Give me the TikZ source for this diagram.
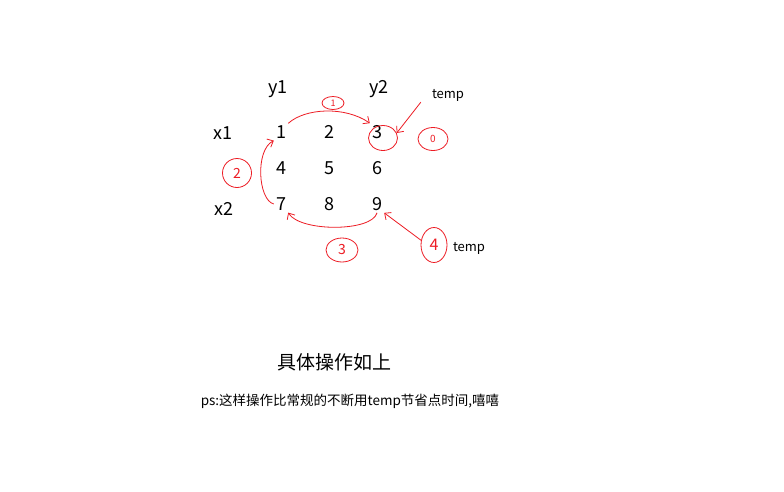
\documentclass[tikz,border=0pt]{standalone}
\usepackage{fontspec}
\setmainfont{Noto Sans CJK SC}
\usetikzlibrary{arrows.meta,shapes.geometric}
\definecolor{pen}{RGB}{237,28,36}
\begin{document}
\begin{tikzpicture}[x=1pt,y=1pt,
  lbl/.style={font=\fontsize{18}{20}\selectfont, inner sep=2pt},
  small/.style={font=\fontsize{13}{15}\selectfont, inner sep=1pt},
  ring/.style={ellipse, draw=pen, line width=0.8pt, inner sep=0pt, text=pen},
  penline/.style={draw=pen, line width=0.8pt},
  penarrow/.style={penline, -{Straight Barb[length=5pt,width=9pt]}}]
\useasboundingbox[fill=white] (0,0) rectangle (784,-491);
% labels
\node[lbl] (y1) at (278,-89) {y1};
\node[lbl] (y2) at (379,-89) {y2};
\node[lbl] (x1) at (223,-133) {x1};
\node[lbl] (x2) at (224,-209) {x2};
% grid
\node[lbl] (n1) at (281,-132) {1};
\node[lbl] (n2) at (329,-132) {2};
\node[lbl] (n3) at (377,-132) {3};
\node[lbl] (n4) at (281,-168) {4};
\node[lbl] (n5) at (329,-168) {5};
\node[lbl] (n6) at (377,-168) {6};
\node[lbl] (n7) at (281,-204) {7};
\node[lbl] (n8) at (329,-204) {8};
\node[lbl] (n9) at (377,-204) {9};
% temp labels
\node[small] (tempA) at (448,-95) {temp};
\node[small] (tempB) at (469,-248) {temp};
% step rings
\node[ring, minimum width=22, minimum height=13, font=\fontsize{9}{9}\selectfont] (c1) at (333,-103) {1};
\node[ring, minimum width=29, minimum height=29, font=\fontsize{14}{14}\selectfont] (c2) at (237,-173) {2};
\node[ring, minimum width=32, minimum height=24, font=\fontsize{14}{14}\selectfont] (c3) at (342,-250) {3};
\node[ring, minimum width=26, minimum height=35, font=\fontsize{16}{16}\selectfont] (c4) at (434,-245) {4};
\node[ring, minimum width=30, minimum height=23, font=\fontsize{10}{10}\selectfont] (c0) at (433,-139) {0};
\node[ring, minimum width=29, minimum height=25] (ring3) at (383,-138) {};
% arrows
\draw[penarrow] (n1.north east) .. controls (305,-108) and (345,-106) .. (n3.north west);
\draw[penarrow] (n7.west) .. controls (258,-200) and (255,-150) .. (n1.south west);
\draw[penarrow] (n9.south) .. controls (372,-232) and (300,-232) .. (n7.south east);
\draw[penarrow] ([xshift=-10pt]tempA.south west) -- (ring3.20);
\draw[penarrow] (c4.160) -- (n9.south east);
% captions
\node[font=\fontsize{19}{21}\selectfont] (title) at (334,-362) {具体操作如上};
\node[font=\fontsize{13.5}{15}\selectfont] (ps) at (350,-401) {ps:这样操作比常规的不断用temp节省点时间,嘻嘻};
\end{tikzpicture}
\end{document}
